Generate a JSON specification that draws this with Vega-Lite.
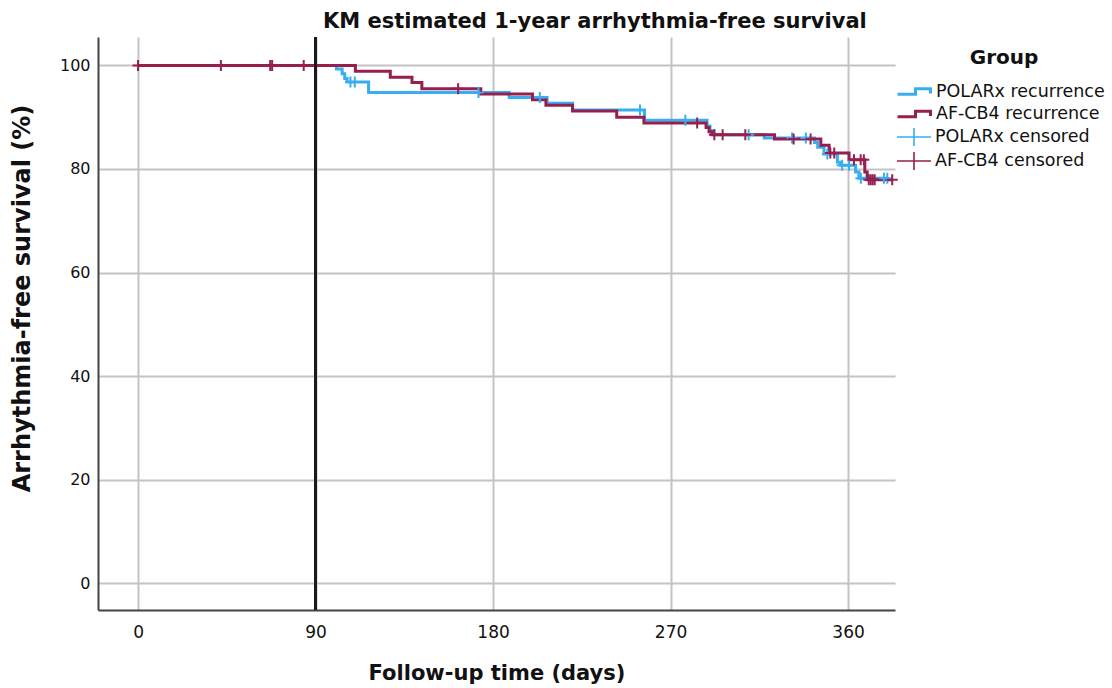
{
  "$schema": "https://vega.github.io/schema/vega-lite/v6.json",
  "width": 797,
  "height": 573,
  "autosize": {"type": "none"},
  "padding": {"left": 98, "top": 37, "right": 217, "bottom": 78},
  "background": "white",
  "config": {"view": {"stroke": null}, "font": "DejaVu Sans"},
  "title": {"text": "KM estimated 1-year arrhythmia-free survival", "anchor": "start", "frame": "group", "dx": 225, "fontSize": 21, "fontWeight": "bold", "font": "DejaVu Sans", "color": "#111111", "offset": 4},
  "data": {"values": [
    {"group": "POLARx", "type": "step", "series": "POLARx recurrence", "t": 0, "s": 100},
    {"group": "POLARx", "type": "step", "series": "POLARx recurrence", "t": 100.6, "s": 99.3},
    {"group": "POLARx", "type": "step", "series": "POLARx recurrence", "t": 103.5, "s": 98.4},
    {"group": "POLARx", "type": "step", "series": "POLARx recurrence", "t": 104.8, "s": 97.5},
    {"group": "POLARx", "type": "step", "series": "POLARx recurrence", "t": 106, "s": 96.8},
    {"group": "POLARx", "type": "step", "series": "POLARx recurrence", "t": 116.9, "s": 94.8},
    {"group": "POLARx", "type": "step", "series": "POLARx recurrence", "t": 188.2, "s": 93.8},
    {"group": "POLARx", "type": "step", "series": "POLARx recurrence", "t": 207.4, "s": 92.7},
    {"group": "POLARx", "type": "step", "series": "POLARx recurrence", "t": 220.3, "s": 91.4},
    {"group": "POLARx", "type": "step", "series": "POLARx recurrence", "t": 256.8, "s": 89.4},
    {"group": "POLARx", "type": "step", "series": "POLARx recurrence", "t": 288.5, "s": 88.3},
    {"group": "POLARx", "type": "step", "series": "POLARx recurrence", "t": 290, "s": 87.4},
    {"group": "POLARx", "type": "step", "series": "POLARx recurrence", "t": 292, "s": 86.6},
    {"group": "POLARx", "type": "step", "series": "POLARx recurrence", "t": 317.5, "s": 86.0},
    {"group": "POLARx", "type": "step", "series": "POLARx recurrence", "t": 343, "s": 85.1},
    {"group": "POLARx", "type": "step", "series": "POLARx recurrence", "t": 344.6, "s": 84.2},
    {"group": "POLARx", "type": "step", "series": "POLARx recurrence", "t": 347.8, "s": 82.9},
    {"group": "POLARx", "type": "step", "series": "POLARx recurrence", "t": 354.6, "s": 81.3},
    {"group": "POLARx", "type": "step", "series": "POLARx recurrence", "t": 356.2, "s": 80.7},
    {"group": "POLARx", "type": "step", "series": "POLARx recurrence", "t": 363.8, "s": 79.4},
    {"group": "POLARx", "type": "step", "series": "POLARx recurrence", "t": 365.5, "s": 78.2},
    {"group": "POLARx", "type": "step", "series": "POLARx recurrence", "t": 380, "s": 78.2},
    {"group": "AF-CB4", "type": "step", "series": "AF-CB4 recurrence", "t": 0, "s": 100},
    {"group": "AF-CB4", "type": "step", "series": "AF-CB4 recurrence", "t": 110.2, "s": 98.9},
    {"group": "AF-CB4", "type": "step", "series": "AF-CB4 recurrence", "t": 127.9, "s": 97.7},
    {"group": "AF-CB4", "type": "step", "series": "AF-CB4 recurrence", "t": 138.9, "s": 96.7},
    {"group": "AF-CB4", "type": "step", "series": "AF-CB4 recurrence", "t": 143.9, "s": 95.5},
    {"group": "AF-CB4", "type": "step", "series": "AF-CB4 recurrence", "t": 173.8, "s": 94.5},
    {"group": "AF-CB4", "type": "step", "series": "AF-CB4 recurrence", "t": 200, "s": 93.4},
    {"group": "AF-CB4", "type": "step", "series": "AF-CB4 recurrence", "t": 206.8, "s": 92.3},
    {"group": "AF-CB4", "type": "step", "series": "AF-CB4 recurrence", "t": 220.3, "s": 91.2},
    {"group": "AF-CB4", "type": "step", "series": "AF-CB4 recurrence", "t": 242.7, "s": 90.0},
    {"group": "AF-CB4", "type": "step", "series": "AF-CB4 recurrence", "t": 256.5, "s": 88.9},
    {"group": "AF-CB4", "type": "step", "series": "AF-CB4 recurrence", "t": 288, "s": 88.0},
    {"group": "AF-CB4", "type": "step", "series": "AF-CB4 recurrence", "t": 289.5, "s": 87.2},
    {"group": "AF-CB4", "type": "step", "series": "AF-CB4 recurrence", "t": 291, "s": 86.6},
    {"group": "AF-CB4", "type": "step", "series": "AF-CB4 recurrence", "t": 322.7, "s": 85.8},
    {"group": "AF-CB4", "type": "step", "series": "AF-CB4 recurrence", "t": 346.2, "s": 84.6},
    {"group": "AF-CB4", "type": "step", "series": "AF-CB4 recurrence", "t": 350.4, "s": 83.1},
    {"group": "AF-CB4", "type": "step", "series": "AF-CB4 recurrence", "t": 360.5, "s": 81.8},
    {"group": "AF-CB4", "type": "step", "series": "AF-CB4 recurrence", "t": 368.5, "s": 79.4},
    {"group": "AF-CB4", "type": "step", "series": "AF-CB4 recurrence", "t": 369.7, "s": 77.9},
    {"group": "AF-CB4", "type": "step", "series": "AF-CB4 recurrence", "t": 382.4, "s": 77.9},
    {"group": "POLARx", "type": "censor", "series": "POLARx censored", "t": 107.7, "s": 96.8},
    {"group": "POLARx", "type": "censor", "series": "POLARx censored", "t": 109.9, "s": 96.8},
    {"group": "POLARx", "type": "censor", "series": "POLARx censored", "t": 172.6, "s": 94.8},
    {"group": "POLARx", "type": "censor", "series": "POLARx censored", "t": 203.7, "s": 93.8},
    {"group": "POLARx", "type": "censor", "series": "POLARx censored", "t": 254.5, "s": 91.4},
    {"group": "POLARx", "type": "censor", "series": "POLARx censored", "t": 277.5, "s": 89.4},
    {"group": "POLARx", "type": "censor", "series": "POLARx censored", "t": 309.6, "s": 86.6},
    {"group": "POLARx", "type": "censor", "series": "POLARx censored", "t": 331.6, "s": 86.0},
    {"group": "POLARx", "type": "censor", "series": "POLARx censored", "t": 338.6, "s": 86.0},
    {"group": "POLARx", "type": "censor", "series": "POLARx censored", "t": 349.5, "s": 82.9},
    {"group": "POLARx", "type": "censor", "series": "POLARx censored", "t": 357, "s": 80.7},
    {"group": "POLARx", "type": "censor", "series": "POLARx censored", "t": 360.5, "s": 80.7},
    {"group": "POLARx", "type": "censor", "series": "POLARx censored", "t": 366.5, "s": 78.2},
    {"group": "POLARx", "type": "censor", "series": "POLARx censored", "t": 378.2, "s": 78.2},
    {"group": "POLARx", "type": "censor", "series": "POLARx censored", "t": 379.9, "s": 78.2},
    {"group": "AF-CB4", "type": "censor", "series": "AF-CB4 censored", "t": 0, "s": 100},
    {"group": "AF-CB4", "type": "censor", "series": "AF-CB4 censored", "t": 42, "s": 100},
    {"group": "AF-CB4", "type": "censor", "series": "AF-CB4 censored", "t": 67, "s": 100},
    {"group": "AF-CB4", "type": "censor", "series": "AF-CB4 censored", "t": 68, "s": 100},
    {"group": "AF-CB4", "type": "censor", "series": "AF-CB4 censored", "t": 84, "s": 100},
    {"group": "AF-CB4", "type": "censor", "series": "AF-CB4 censored", "t": 162.3, "s": 95.5},
    {"group": "AF-CB4", "type": "censor", "series": "AF-CB4 censored", "t": 283.5, "s": 88.9},
    {"group": "AF-CB4", "type": "censor", "series": "AF-CB4 censored", "t": 292.2, "s": 86.6},
    {"group": "AF-CB4", "type": "censor", "series": "AF-CB4 censored", "t": 296.4, "s": 86.6},
    {"group": "AF-CB4", "type": "censor", "series": "AF-CB4 censored", "t": 307.9, "s": 86.6},
    {"group": "AF-CB4", "type": "censor", "series": "AF-CB4 censored", "t": 332.4, "s": 85.8},
    {"group": "AF-CB4", "type": "censor", "series": "AF-CB4 censored", "t": 341, "s": 85.8},
    {"group": "AF-CB4", "type": "censor", "series": "AF-CB4 censored", "t": 351, "s": 83.1},
    {"group": "AF-CB4", "type": "censor", "series": "AF-CB4 censored", "t": 353, "s": 83.1},
    {"group": "AF-CB4", "type": "censor", "series": "AF-CB4 censored", "t": 363, "s": 81.8},
    {"group": "AF-CB4", "type": "censor", "series": "AF-CB4 censored", "t": 366.4, "s": 81.8},
    {"group": "AF-CB4", "type": "censor", "series": "AF-CB4 censored", "t": 368, "s": 81.8},
    {"group": "AF-CB4", "type": "censor", "series": "AF-CB4 censored", "t": 370.5, "s": 77.9},
    {"group": "AF-CB4", "type": "censor", "series": "AF-CB4 censored", "t": 371.5, "s": 77.9},
    {"group": "AF-CB4", "type": "censor", "series": "AF-CB4 censored", "t": 372.5, "s": 77.9},
    {"group": "AF-CB4", "type": "censor", "series": "AF-CB4 censored", "t": 373.5, "s": 77.9},
    {"group": "AF-CB4", "type": "censor", "series": "AF-CB4 censored", "t": 382.4, "s": 77.9}
  ]},
  "layer": [
    {
      "transform": [{"filter": "datum.type === 'step' && datum.group === 'POLARx'"}],
      "mark": {"type": "line", "interpolate": "step-after", "strokeWidth": 3},
      "encoding": {
        "x": {"field": "t", "type": "quantitative",
          "scale": {"domain": [-20.3, 383.8], "nice": false, "zero": false},
          "axis": {"title": "Follow-up time (days)", "values": [0, 90, 180, 270, 360], "grid": true, "gridColor": "#c4c4c4", "gridWidth": 2, "ticks": false, "domainColor": "#444444", "domainWidth": 2, "labelFontSize": 17, "labelColor": "#111111", "labelPadding": 14, "titleFontSize": 21, "titleFontWeight": "bold", "titleColor": "#111111", "titlePadding": 22, "labelFont": "DejaVu Sans", "titleFont": "DejaVu Sans"}},
        "y": {"field": "s", "type": "quantitative",
          "scale": {"domain": [-5.2, 105.5], "nice": false, "zero": false},
          "axis": {"title": "Arrhythmia-free survival (%)", "values": [0, 20, 40, 60, 80, 100], "grid": true, "gridColor": "#c4c4c4", "gridWidth": 2, "ticks": false, "domainColor": "#444444", "domainWidth": 2, "labelFontSize": 16, "labelColor": "#111111", "labelPadding": 8, "titleFontSize": 24, "titleFontWeight": "bold", "titleColor": "#111111", "titlePadding": 25, "titleY": 261, "labelFont": "DejaVu Sans", "titleFont": "DejaVu Sans"}},
        "color": {"field": "series", "type": "nominal",
          "scale": {"domain": ["POLARx recurrence", "AF-CB4 recurrence"], "range": ["#38aef0", "#961f4e"]},
          "legend": {"title": "Group", "orient": "none", "legendX": 805, "legendY": 11, "padding": 0, "titleFontSize": 20, "titleFontWeight": "bold", "titleColor": "#111111", "titleAnchor": "middle", "titlePadding": 12, "labelFontSize": 17.5, "labelColor": "#111111", "labelLimit": 0, "symbolType": "M-1.7,0.28H0.1V-0.28H1.6V0.2", "symbolSize": 400, "symbolStrokeWidth": 3, "rowPadding": 1.5, "labelOffset": 10}}
      }
    },
    {
      "transform": [{"filter": "datum.type === 'step' && datum.group === 'AF-CB4'"}],
      "mark": {"type": "line", "interpolate": "step-after", "strokeWidth": 3},
      "encoding": {
        "x": {"field": "t", "type": "quantitative"},
        "y": {"field": "s", "type": "quantitative"},
        "color": {"field": "series", "type": "nominal"}
      }
    },
    {
      "transform": [{"filter": "datum.type === 'censor'"}],
      "mark": {"type": "point", "shape": "M0,-1V1M-1,0H1", "size": 121, "strokeWidth": 2, "filled": false, "opacity": 1},
      "encoding": {
        "x": {"field": "t", "type": "quantitative"},
        "y": {"field": "s", "type": "quantitative"},
        "stroke": {"field": "series", "type": "nominal",
          "scale": {"domain": ["POLARx censored", "AF-CB4 censored"], "range": ["#38aef0", "#961f4e"]},
          "legend": {"title": null, "orient": "none", "legendX": 805, "legendY": 89, "padding": 0, "labelFontSize": 17.5, "labelColor": "#111111", "labelLimit": 0, "symbolType": "M0,-0.9V0.9M-1.7,0H1.7", "symbolSize": 400, "symbolStrokeWidth": 1.6, "rowPadding": -4.5, "labelOffset": 10}}
      }
    },
    {
      "mark": {"type": "rule", "color": "#1a1a1a", "strokeWidth": 2},
      "encoding": {"x": {"datum": 90, "type": "quantitative"}}
    }
  ]
}
